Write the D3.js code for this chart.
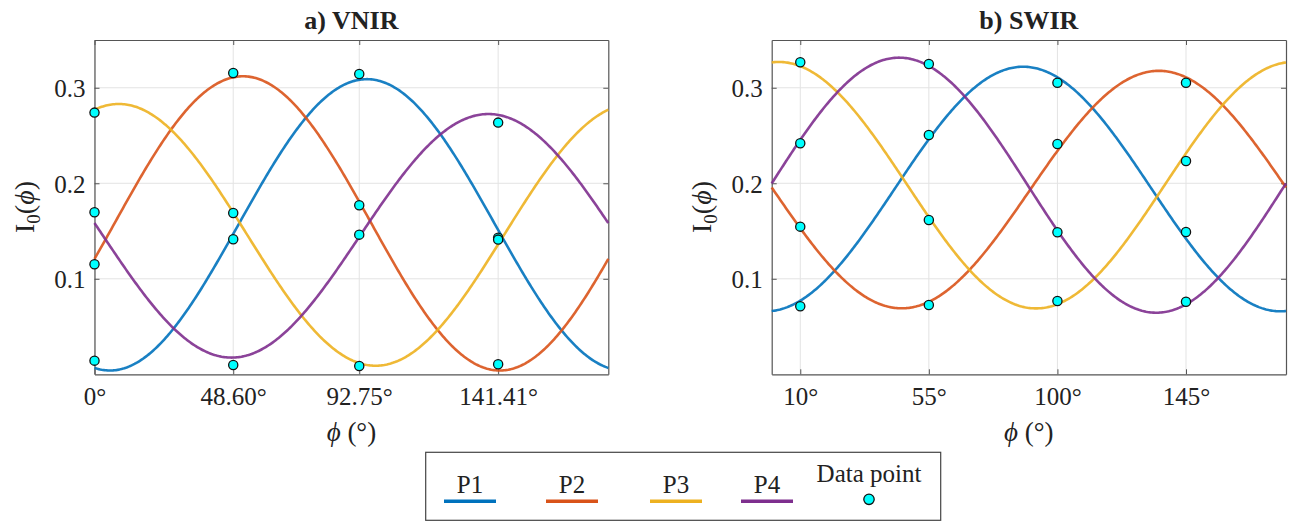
<!DOCTYPE html>
<html>
<head>
<meta charset="utf-8">
<script src="https://cdn.jsdelivr.net/npm/d3@7"></script>
<style>
  body { margin: 0; background: #fff; }
</style>
</head>
<body>
<svg id="chart" width="1293" height="521"></svg>
<script>
// series names and colours (matlab defaults)
var seriesNames = ["P1", "P2", "P3", "P4"];
var seriesColors = ["#0072BD", "#D95319", "#EDB120", "#7E2F8E"];

// a) VNIR - measured angles and intensities per polariser
var vnirAngles = [0, 48.60, 92.75, 141.41];
var vnirP1 = [0.0143, 0.1414, 0.3144, 0.1430];
var vnirP2 = [0.1152, 0.3155, 0.1770, 0.0105];
var vnirP3 = [0.2740, 0.1689, 0.0087, 0.1410];
var vnirP4 = [0.1696, 0.0097, 0.1462, 0.2635];
// fitted curve I0 = mean + amp*cos(2(phi - peak))
var vnirMean = [0.1565, 0.1580, 0.1460, 0.1450];
var vnirAmp = [0.1525, 0.1540, 0.1370, 0.1275];
var vnirPeak = [95.4, 52.0, 8.5, 138.0];

// b) SWIR
var swirAngles = [10, 55, 100, 145];
var swirP1 = [0.0712, 0.2506, 0.3053, 0.1490];
var swirP2 = [0.1546, 0.0726, 0.2411, 0.3053];
var swirP3 = [0.3267, 0.1616, 0.0768, 0.2233];
var swirP4 = [0.2419, 0.3249, 0.1487, 0.0760];
var swirMean = [0.1940, 0.1934, 0.1980, 0.1980];
var swirAmp = [0.1280, 0.1243, 0.1290, 0.1335];
var swirPeak = [88.0, 135.5, 2.5, 44.6];

var yTicks = [0.1, 0.2, 0.3];

var FONT = "'Liberation Serif', 'Times New Roman', 'DejaVu Serif', serif";

var svg = d3.select("#chart");

function draw_panel(opt) {
    var x = d3.scaleLinear().domain([0, 180]).range([opt.left, opt.right]);
    var y = d3.scaleLinear().domain([0, 0.35]).range([374.3, 40]);
    var g = svg.append("g");

    // grid
    g.selectAll(".gx").data(opt.angles).enter().append("line")
        .attr("x1", function(d) { return x(d); }).attr("x2", function(d) { return x(d); })
        .attr("y1", y(0.35)).attr("y2", y(0))
        .attr("stroke", "#e3e3e3").attr("stroke-width", 1);
    g.selectAll(".gy").data(yTicks).enter().append("line")
        .attr("x1", x(0)).attr("x2", x(180))
        .attr("y1", function(d) { return y(d); }).attr("y2", function(d) { return y(d); })
        .attr("stroke", "#e3e3e3").attr("stroke-width", 1);

    // axes with inward ticks
    var fmt = function(d) { return opt.tickText(d); };
    g.append("g").attr("transform", "translate(0," + y(0) + ")")
        .call(d3.axisBottom(x).tickValues(opt.angles).tickSizeInner(-5).tickSizeOuter(0).tickFormat(fmt))
        .call(styleAxis)
        .selectAll("text").attr("dy", null).attr("y", 31).style("font-size", "25px");
    g.append("g").attr("transform", "translate(0," + y(0.35) + ")")
        .call(d3.axisTop(x).tickValues(opt.angles).tickSizeInner(-5).tickSizeOuter(0).tickFormat(""))
        .call(styleAxis);
    g.append("g").attr("transform", "translate(" + x(0) + ",0)")
        .call(d3.axisLeft(y).tickValues(yTicks).tickSizeInner(-5).tickSizeOuter(0).tickFormat(d3.format(".1f")))
        .call(styleAxis)
        .selectAll("text").attr("x", -9).attr("dy", "0.36em").style("font-size", "25px");
    g.append("g").attr("transform", "translate(" + x(180) + ",0)")
        .call(d3.axisRight(y).tickValues(yTicks).tickSizeInner(-5).tickSizeOuter(0).tickFormat(""))
        .call(styleAxis);

    // fitted curves
    var line = d3.line()
        .x(function(d) { return x(d[0]); })
        .y(function(d) { return y(d[1]); });
    var phis = d3.range(0, 180.5, 0.5);
    for (var i = 0; i < 4; i++) {
        var m = opt.mean[i], a = opt.amp[i], p = opt.peak[i];
        var pts = phis.map(function(f) { return [f, m + a * Math.cos(2 * (f - p) * Math.PI / 180)]; });
        g.append("path").datum(pts)
            .attr("d", line)
            .attr("fill", "none")
            .attr("stroke", seriesColors[i])
            .attr("stroke-width", 2.6)
            .attr("stroke-opacity", 0.9);
    }

    // data points
    var pts2 = [];
    opt.values.forEach(function(vals) {
        vals.forEach(function(v, j) { pts2.push([opt.angles[j], v]); });
    });
    g.selectAll(".pt").data(pts2).enter().append("circle")
        .attr("cx", function(d) { return x(d[0]); })
        .attr("cy", function(d) { return y(d[1]); })
        .attr("r", 4.6)
        .attr("fill", "#00ffff")
        .attr("stroke", "#111")
        .attr("stroke-width", 1.3);

    // title and labels
    var cx = (opt.left + opt.right) / 2;
    svg.append("text").attr("x", cx).attr("y", 29)
        .attr("text-anchor", "middle")
        .style("font-size", "26px").style("font-weight", "bold")
        .text(opt.title);

    var xl = svg.append("text").attr("x", cx).attr("y", 441)
        .attr("text-anchor", "middle").style("font-size", "27px");
    xl.append("tspan").style("font-style", "italic").text("\u03d5");
    xl.append("tspan").text(" (\u00b0)");

    var yl = svg.append("text")
        .attr("transform", "translate(" + opt.ylabelX + ",207) rotate(-90)")
        .attr("text-anchor", "middle").style("font-size", "28px");
    yl.append("tspan").text("I");
    yl.append("tspan").attr("dy", 6).style("font-size", "19px").text("0");
    yl.append("tspan").attr("dy", -6).text("(");
    yl.append("tspan").style("font-style", "italic").text("\u03d5");
    yl.append("tspan").text(")");
}

function styleAxis(sel) {
    sel.attr("font-family", null);
    sel.select(".domain").attr("stroke", "#555").attr("stroke-width", 1.2);
    sel.selectAll(".tick line").attr("stroke", "#555");
    sel.selectAll("text").attr("fill", "#333");
}

draw_panel({
    title: "a) VNIR", left: 94.5, right: 608.3, ylabelX: 34,
    angles: vnirAngles, values: [vnirP1, vnirP2, vnirP3, vnirP4],
    mean: vnirMean, amp: vnirAmp, peak: vnirPeak,
    tickText: function(d) { return d === 0 ? "0\u00b0" : d.toFixed(2) + "\u00b0"; }
});
draw_panel({
    title: "b) SWIR", left: 771.7, right: 1286, ylabelX: 711,
    angles: swirAngles, values: [swirP1, swirP2, swirP3, swirP4],
    mean: swirMean, amp: swirAmp, peak: swirPeak,
    tickText: function(d) { return d + "\u00b0"; }
});

// legend
var lg = svg.append("g");
lg.append("rect").attr("x", 425.7).attr("y", 452.3).attr("width", 515).attr("height", 68)
    .attr("fill", "#fff").attr("stroke", "#444").attr("stroke-width", 1.2);
var lgX = [444, 546, 650, 741];
seriesNames.forEach(function(n, i) {
    lg.append("line").attr("x1", lgX[i]).attr("x2", lgX[i] + 52)
        .attr("y1", 501.3).attr("y2", 501.3)
        .attr("stroke", seriesColors[i]).attr("stroke-width", 3.5);
    lg.append("text").attr("x", lgX[i] + 26).attr("y", 493)
        .attr("text-anchor", "middle").style("font-size", "25px").text(n);
});
lg.append("text").attr("x", 869).attr("y", 482)
    .attr("text-anchor", "middle").style("font-size", "25px").text("Data point");
lg.append("circle").attr("cx", 869).attr("cy", 499.3).attr("r", 5.2)
    .attr("fill", "#00ffff").attr("stroke", "#111").attr("stroke-width", 1.3);

// serif font everywhere
svg.selectAll("text").style("font-family", FONT).style("fill", "#222");
</script>
</body>
</html>
